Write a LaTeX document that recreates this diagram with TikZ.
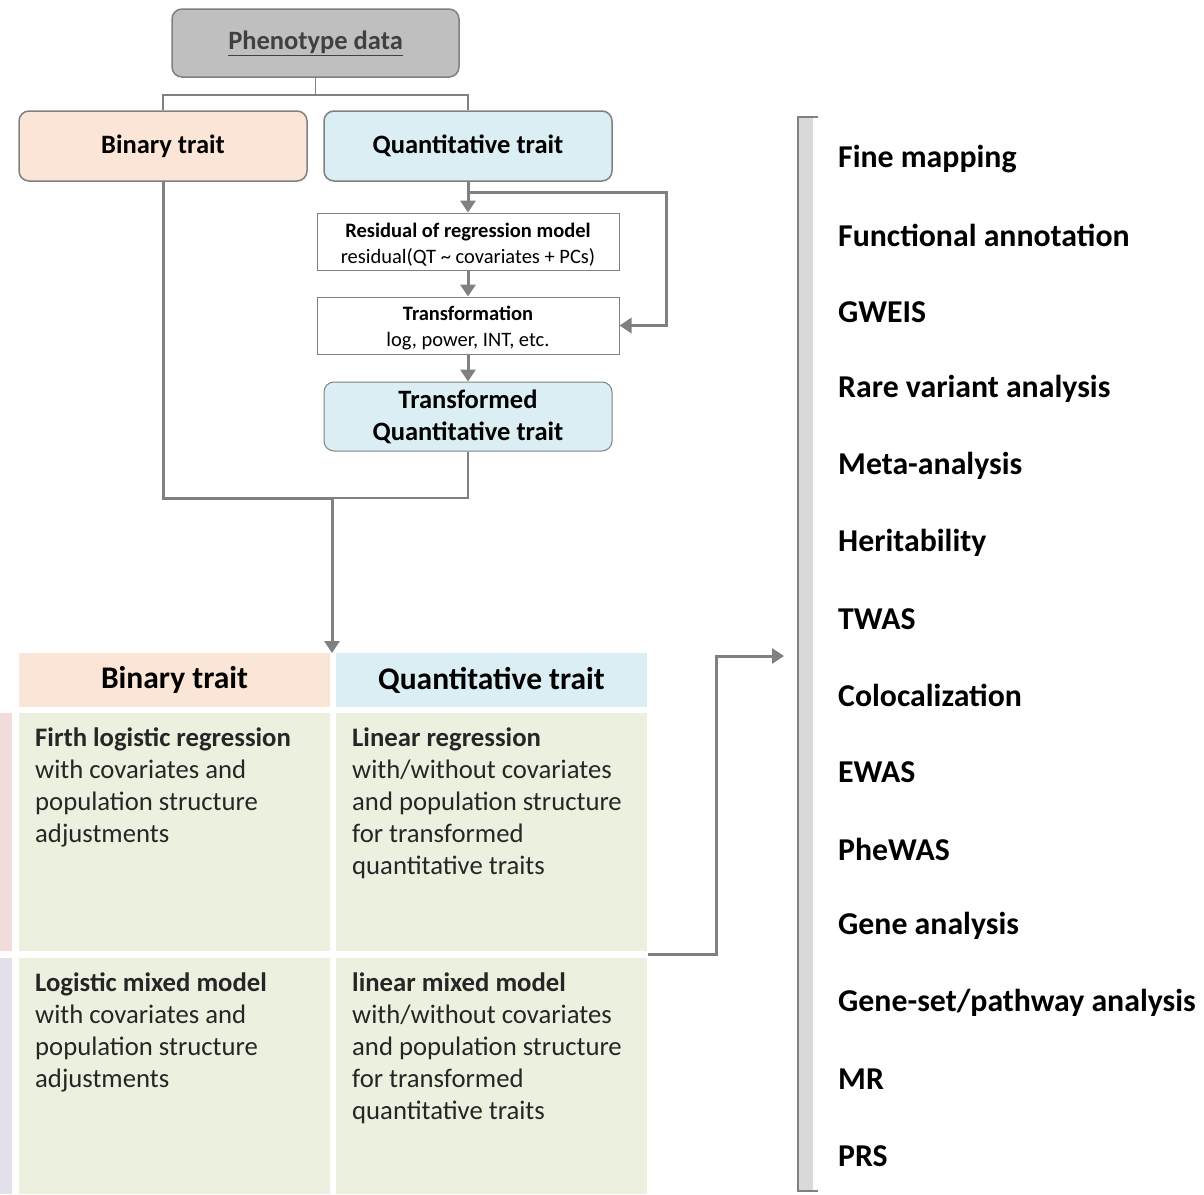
\documentclass[tikz,border=0pt]{standalone}
\usepackage{fontspec}
\setmainfont{Carlito}
\usetikzlibrary{arrows.meta}
\definecolor{boxgray}{HTML}{BFBFBF}
\definecolor{linegray}{HTML}{808080}
\definecolor{peach}{HTML}{FBE5D6}
\definecolor{lblue}{HTML}{DAEEF3}
\definecolor{lgreen}{HTML}{EBF1DE}
\definecolor{spink}{HTML}{F2DCDB}
\definecolor{slav}{HTML}{E4DFEC}
\definecolor{bargray}{HTML}{D9D9D9}
\definecolor{txtdark}{HTML}{262626}
\definecolor{phtxt}{HTML}{404040}
\begin{document}
\begin{tikzpicture}[x=1pt,y=-1pt,
  rbox/.style={draw=linegray, line width=1.5pt, rounded corners=10pt, inner sep=0pt, align=center, font=\fontsize{26.5}{32}\selectfont\bfseries},
  wbox/.style={draw=linegray, line width=1pt, fill=white, inner sep=0pt},
  wtxt/.style={inner sep=0pt, align=center, font=\fontsize{20.5}{26}\selectfont},
  cell/.style={inner sep=0pt, minimum width=311pt},
  celltxt/.style={anchor=north west, inner sep=0pt, align=left, text=txtdark, font=\fontsize{26.7}{32}\selectfont},
  thin/.style={draw=linegray, line width=1.5pt},
  thickl/.style={draw=linegray, line width=3pt},
  arr/.style={draw=linegray, line width=3pt, -{Triangle[length=12pt,width=15pt]}},
  item/.style={anchor=west, inner sep=0pt, font=\fontsize{31.8}{36}\selectfont\bfseries}
]
\useasboundingbox (0,0) rectangle (1204,1194);

% top flow
\node[rbox, fill=boxgray, minimum width=287pt, minimum height=68pt, text=phtxt] (pheno) at (315.5,43) {\underline{Phenotype data}};
\node[rbox, fill=peach, minimum width=288pt, minimum height=70pt] (bin) at (163,146) {\raisebox{-2pt}{Binary trait}};
\node[rbox, fill=lblue, minimum width=288pt, minimum height=70pt] (quant) at (468,146) {\raisebox{-2pt}{Quantitative trait}};
\node[wbox, minimum width=302pt, minimum height=57pt] (resid) at (468,241.5) {};
\node[wtxt] (residt) at ([yshift=-3pt]resid.center) {\textbf{Residual of regression model}\\residual(QT \char`~{} covariates + PCs)};
\node[wbox, minimum width=302pt, minimum height=57pt] (transf) at (468,325.5) {};
\node[wtxt] (transft) at ([yshift=-3pt]transf.center) {\textbf{Transformation}\\log, power, INT, etc.};
\node[rbox, fill=lblue, line width=1pt, minimum width=288pt, minimum height=69pt] (tq) at (468,416.5) {Transformed\\Quantitative trait};

\coordinate (split) at (315.5,95);
\draw[thin] (pheno.south) -- (split);
\draw[thin] (split) -| (bin.north);
\draw[thin] (split) -| (quant.north);

\draw[arr] (quant.south) -- (resid.north);
\coordinate (qsplit) at (468,192);
\coordinate (qright) at (666,192);
\draw[arr] (qsplit) -- (qright) |- (transf.east);
\draw[arr] (resid.south) -- (transf.north);
\draw[arr] (transf.south) -- (tq.north);

\coordinate (join) at (332,498);
\coordinate (tabletop) at (332,653);
\draw[thickl] (bin.south) |- (join);
\draw[thin] (tq.south) |- (join);
\draw[arr] (join) -- (tabletop);

% table
\node[cell, fill=peach, minimum height=54pt, font=\fontsize{31.5}{36}\selectfont\bfseries] (hb) at (174.5,680) {\raisebox{-2pt}{Binary trait}};
\node[cell, fill=lblue, minimum height=54pt, font=\fontsize{31.5}{36}\selectfont\bfseries] (hq) at (491.5,680) {\raisebox{-2pt}{Quantitative trait}};
\node[cell, fill=lgreen, minimum height=238pt] (b1) at (174.5,832) {};
\node[cell, fill=lgreen, minimum height=238pt] (q1) at (491.5,832) {};
\node[cell, fill=lgreen, minimum height=236pt] (b2) at (174.5,1076) {};
\node[cell, fill=lgreen, minimum height=236pt] (q2) at (491.5,1076) {};
\fill[spink] (0,713) rectangle (12,951);
\fill[slav] (0,958) rectangle (12,1194);

\node[celltxt] (b1t) at (35,728) {\textbf{Firth logistic regression}\\with covariates and\\population structure\\adjustments};
\node[celltxt] (q1t) at (352,728) {\textbf{Linear regression}\\with/without covariates\\and population structure\\for transformed\\quantitative traits};
\node[celltxt] (b2t) at (35,973) {\textbf{Logistic mixed model}\\with covariates and\\population structure\\adjustments};
\node[celltxt] (q2t) at (352,973) {\textbf{linear mixed model}\\with/without covariates\\and population structure\\for transformed\\quantitative traits};

% output arrow
\coordinate (outstart) at (648,954);
\coordinate (outturn) at (716,954);
\coordinate (listin) at (784,656);
\draw[arr] (outstart) -- (outturn) |- (listin);

% bracket
\fill[bargray] (799,117) rectangle (813,1191);
\draw[draw=linegray, line width=2.5pt] (818,117) -- (798,117) -- (798,1191) -- (818,1191);

% list
\foreach \t [count=\i from 0] in {Fine mapping,Functional annotation,GWEIS,Rare variant analysis,Meta-analysis,Heritability,TWAS,Colocalization,EWAS,PheWAS,Gene analysis,Gene-set/pathway analysis,MR,PRS}{
  \node[item] (it\i) at (838,159+76.7*\i) {\t};
}
\end{tikzpicture}
\end{document}
